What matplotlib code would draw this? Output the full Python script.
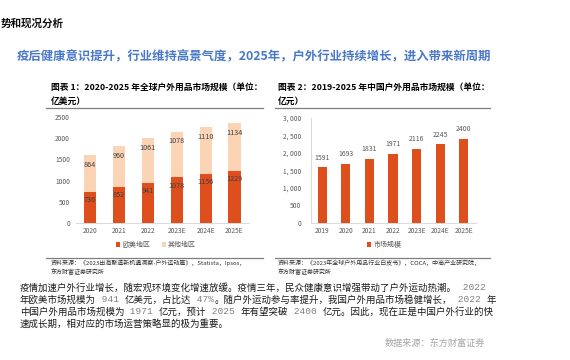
import matplotlib.pyplot as plt
from matplotlib.lines import Line2D
from matplotlib.transforms import IdentityTransform
import numpy as np

plt.rcParams['font.family'] = ['Noto Sans CJK SC', 'DejaVu Sans']

W, H = 570, 360

# 图表1 数据
global_years = ['2020', '2021', '2022', '2023E', '2024E', '2025E']
eu_us = [736, 852, 941, 1078, 1156, 1229]
others = [864, 960, 1061, 1078, 1110, 1134]

# 图表2 数据
china_years = ['2019', '2020', '2021', '2022', '2023E', '2024E', '2025E']
china_size = [1591, 1693, 1831, 1971, 2116, 2245, 2400]

ORANGE = '#DF4F1D'
PEACH = '#FBD3B5'
GREY = '#595959'

fig = plt.figure(figsize=(5.7, 3.6), dpi=100)
fig.patch.set_facecolor('white')


def fx(x):
    return x / W


def fy(y):
    return 1 - y / H


def box(l, t, r, b):
    return [fx(l), fy(b), fx(r) - fx(l), fy(t) - fy(b)]


def hline(x0, x1, y, color='#7f7f7f', lw=0.9):
    fig.add_artist(Line2D([fx(x0), fx(x1)], [fy(y), fy(y)], color=color, lw=lw))


# 页眉
fig.text(fx(1), fy(24), '势和现况分析', fontsize=7.6, weight='bold', va='center', color='#111111')
fig.text(fx(17), fy(57), '疫后健康意识提升，行业维持高景气度，2025年，户外行业持续增长，进入带来新周期',
         fontsize=8.9, weight='bold', va='center', color='#4A78C8')

# 图表标题
fig.text(fx(51), fy(87), '图表 1：2020-2025 年全球户外用品市场规模（单位：', fontsize=6.3, weight='bold', va='center')
fig.text(fx(51), fy(101), '亿美元）', fontsize=6.3, weight='bold', va='center')
fig.text(fx(278), fy(87), '图表 2：2019-2025 年中国户外用品市场规模（单位：', fontsize=6.3, weight='bold', va='center')
fig.text(fx(278), fy(101), '亿元）', fontsize=6.3, weight='bold', va='center')
hline(46, 263, 107.5)
hline(275, 490, 107.5)

# 图表1
ax1 = fig.add_axes(box(75.5, 117, 249, 223))
x1 = np.arange(len(global_years))
b1 = ax1.bar(x1, eu_us, width=0.42, color=ORANGE, label='欧美地区')
b2 = ax1.bar(x1, others, width=0.42, bottom=eu_us, color=PEACH, label='其他地区')
for rect, v in zip(b1, eu_us):
    ax1.annotate(str(v), (rect.get_x() + rect.get_width() / 2, rect.get_y() + rect.get_height()),
                 xytext=(0, -6), textcoords='offset points', ha='center', va='center',
                 fontsize=5.2, color='#404040')
for rect, v in zip(b2, others):
    ax1.annotate(str(v), (rect.get_x() + rect.get_width() / 2, rect.get_y() + rect.get_height()),
                 xytext=(0, -7), textcoords='offset points', ha='center', va='center',
                 fontsize=5.2, color='#404040')
ax1.set_xlim(-0.5, len(global_years) - 0.5)
ax1.set_ylim(0, 2500)
ax1.set_yticks(range(0, 2501, 500))
ax1.set_xticks(x1)
ax1.set_xticklabels(global_years)
ax1.tick_params(length=0, labelsize=4.8, labelcolor=GREY, pad=3)
ax1.tick_params(axis='y', pad=4)
for s in ['top', 'right', 'left']:
    ax1.spines[s].set_visible(False)
ax1.spines['bottom'].set_color('#d9d9d9')
ax1.spines['bottom'].set_linewidth(0.7)
ax1.legend(loc='center', bbox_to_anchor=(fx(156), fy(245)), bbox_transform=fig.transFigure,
           ncol=2, frameon=False, fontsize=5, handlelength=0.6, handleheight=0.6,
           handletextpad=0.3, columnspacing=1.6, labelcolor=GREY)

# 图表2
ax2 = fig.add_axes(box(310.5, 118, 475.5, 223))
x2 = np.arange(len(china_years))
b3 = ax2.bar(x2, china_size, width=0.39, color=ORANGE, label='市场规模')
for rect, v in zip(b3, china_size):
    ax2.annotate(str(v), (rect.get_x() + rect.get_width() / 2, rect.get_height()),
                 xytext=(0, 4), textcoords='offset points', ha='center', va='bottom',
                 fontsize=5, color=GREY)
ax2.set_xlim(-0.5, len(china_years) - 0.5)
ax2.set_ylim(0, 3000)
ax2.set_yticks(range(0, 3001, 500))
ax2.set_yticklabels([f'{v:,}'.replace(',', ', ') for v in range(0, 3001, 500)])
ax2.set_xticks(x2)
ax2.set_xticklabels(china_years)
ax2.tick_params(length=0, labelsize=4.8, labelcolor=GREY, pad=3)
ax2.tick_params(axis='y', pad=6.5)
for s in ['top', 'right']:
    ax2.spines[s].set_visible(False)
for s in ['bottom', 'left']:
    ax2.spines[s].set_color('#d9d9d9')
    ax2.spines[s].set_linewidth(0.7)
ax2.legend(loc='center', bbox_to_anchor=(fx(384), fy(245)), bbox_transform=fig.transFigure,
           frameon=False, fontsize=5, handlelength=0.6, handleheight=0.6,
           handletextpad=0.3, labelcolor=GREY)

# 资料来源
hline(46, 263, 257.5)
hline(275, 490, 257.5)
fig.text(fx(51), fy(263), '资料来源：《2023出海聚道新机遇洞察-户外运动篇》，Statista，Ipsos，', fontsize=4.3, va='center', color='#333333')
fig.text(fx(51), fy(272), '东方财富证券研究所', fontsize=4.3, va='center', color='#333333')
fig.text(fx(278), fy(263), '资料来源：《2023年全球户外用品行业白皮书》，COCA，中商产业研究院，', fontsize=4.3, va='center', color='#333333')
fig.text(fx(278), fy(272), '东方财富证券研究所', fontsize=4.3, va='center', color='#333333')

# 正文
renderer = fig.canvas.get_renderer()


def run_line(x, y, parts, size=6.9):
    for s, mono in parts:
        if mono:
            t = fig.text(x, H - y, s, transform=IdentityTransform(), fontsize=size, va='center',
                         color='#808080', family=['Liberation Mono', 'DejaVu Sans Mono'])
        else:
            t = fig.text(x, H - y, s, transform=IdentityTransform(), fontsize=size, va='center',
                         color='#1a1a1a')
        x = t.get_window_extent(renderer).x1


body = [
    [('疫情加速户外行业增长，随宏观环境变化增速放缓。疫情三年，民众健康意识增强带动了户外运动热潮。', False), (' 2022', True)],
    [('年欧美市场规模为', False), (' 941 ', True), ('亿美元，占比达', False), (' 47%', True),
     ('。随户外运动参与率提升，我国户外用品市场稳健增长，', False), (' 2022 ', True), ('年', False)],
    [('中国户外用品市场规模为', False), (' 1971 ', True), ('亿元，预计', False), (' 2025 ', True),
     ('年有望突破', False), (' 2400 ', True), ('亿元。因此，现在正是中国户外行业的快', False)],
    [('速成长期，相对应的市场运营策略显的极为重要。', False)],
]
for i, parts in enumerate(body):
    run_line(20, 288 + 12 * i, parts, size=6.8)

fig.text(fx(385), fy(343), '数据来源：东方财富证券', fontsize=6.6, va='center', color='#a6a6a6')

fig.savefig('out.png', dpi=100, facecolor='white')
